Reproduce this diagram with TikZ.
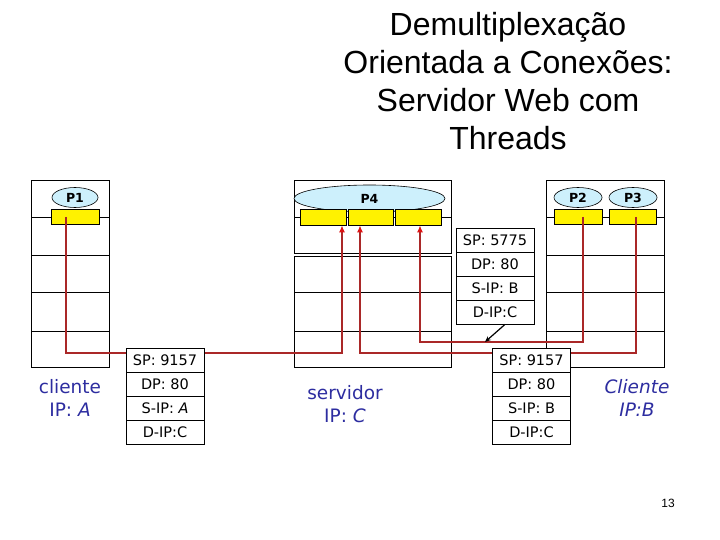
\documentclass[tikz,border=0pt]{standalone}
\usepackage{fontspec}
\setmainfont{Liberation Sans}
\newfontfamily\comic{DejaVu Sans}
\usetikzlibrary{shapes.geometric,arrows.meta}
\definecolor{linkred}{RGB}{170,40,40}
\definecolor{tipred}{RGB}{220,20,20}
\definecolor{hostblue}{RGB}{45,45,160}
\definecolor{proccyan}{RGB}{205,240,252}
\tikzset{
  hostline/.style={draw=black, line width=0.7pt},
  proc/.style={ellipse, draw=black, line width=0.6pt, fill=proccyan, inner sep=0pt,
    minimum height=20pt, font=\comic\bfseries\fontsize{12.5}{14}\selectfont},
  sock/.style={rectangle, draw=black, line width=0.6pt, fill=yellow, inner sep=0pt,
    minimum height=15pt},
  redlink/.style={draw=linkred, line width=2.4pt},
  redarrow/.style={redlink, -{Latex[length=7pt,width=6pt,color=tipred]}},
  pkt/.style={rectangle, draw=black, line width=0.8pt, fill=white, inner sep=0pt,
    minimum width=78pt, minimum height=24pt, font=\comic\fontsize{14.5}{16}\selectfont},
  hostlabel/.style={align=center, text=hostblue, font=\comic\fontsize{18.5}{23}\selectfont}
}
\begin{document}
\begin{tikzpicture}[x=1pt,y=-1pt]
\useasboundingbox (0,0) rectangle (720,540);
% title
\node[align=center, font=\fontsize{32}{38}\selectfont] (title) at (508,81)
  {Demultiplexação\\Orientada a Conexões:\\Servidor Web com\\Threads};
% left host
\draw[hostline] (31,180) rectangle (109,367);
\foreach \yy in {217,255,292,331} \draw[hostline] (31,\yy) -- (109,\yy);
% server host
\draw[hostline] (294,180) rectangle (451,253);
\draw[hostline] (294,256) rectangle (451,367);
\foreach \yy in {217} \draw[hostline] (294,\yy) -- (451,\yy);
\foreach \yy in {292,331} \draw[hostline] (294,\yy) -- (451,\yy);
% right host
\draw[hostline] (546,180) rectangle (664,367);
\foreach \yy in {217,255,292,331} \draw[hostline] (546,\yy) -- (664,\yy);
% processes
\node[proc, minimum width=46pt] (P1) at (75,197.5) {P1};
\node[proc, minimum width=151pt, minimum height=27pt] (P4) at (369.5,198.5) {P4};
\node[proc, minimum width=48pt] (P2) at (578,197.5) {P2};
\node[proc, minimum width=48pt] (P3) at (633,197.5) {P3};
% sockets
\node[sock, minimum width=48pt] (sA) at (75,216.5) {};
\node[sock, minimum width=46pt, minimum height=16pt] (sS1) at (323,217) {};
\node[sock, minimum width=45pt, minimum height=16pt] (sS2) at (370.5,217) {};
\node[sock, minimum width=46pt, minimum height=16pt] (sS3) at (418,217) {};
\node[sock, minimum width=48pt] (sP2) at (578,216.5) {};
\node[sock, minimum width=47pt] (sP3) at (632.5,216.5) {};
% red connections
\coordinate (a0) at (66,217);
\coordinate (a1) at (66,353);
\coordinate (a2) at (342,353);
\draw[redarrow] (a0) -- (a1) -- (a2) -- (a2 |- sS1.south);
\coordinate (c0) at (636,217);
\coordinate (c1) at (636,353);
\coordinate (c2) at (360,353);
\draw[redarrow] (c0) -- (c1) -- (c2) -- (c2 |- sS2.south);
\coordinate (b0) at (583,217);
\coordinate (b1) at (583,342);
\coordinate (b2) at (420,342);
\draw[redarrow] (b0) -- (b1) -- (b2) -- (b2 |- sS3.south);
% packets
\node[pkt] (pA1) at (165,360) {SP: 9157};
\node[pkt] (pA2) at (165,384) {DP: 80};
\node[pkt] (pA3) at (165,408) {S-IP: \textit{A}};
\node[pkt] (pA4) at (165,432) {D-IP:C};
\node[pkt] (pB1) at (531.5,360) {SP: 9157};
\node[pkt] (pB2) at (531.5,384) {DP: 80};
\node[pkt] (pB3) at (531.5,408) {S-IP: B};
\node[pkt] (pB4) at (531.5,432) {D-IP:C};
\node[pkt] (pC1) at (495,240) {SP: 5775};
\node[pkt] (pC2) at (495,264) {DP: 80};
\node[pkt] (pC3) at (495,288) {S-IP: B};
\node[pkt] (pC4) at (495,312) {D-IP:C};
\coordinate (tip) at (485,342);
\draw[line width=1.2pt, -{Stealth[length=6pt,width=5pt]}] ([xshift=10pt]pC4.south) -- (tip);
% host labels
\node[hostlabel] (hA) at (70,398) {cliente\\IP: \textit{A}};
\node[hostlabel] (hS) at (345,404) {servidor\\IP: \textit{C}};
\node[hostlabel] (hB) at (637,398) {\textit{Cliente}\\\textit{IP:B}};
% page number
\node[font=\fontsize{12}{14}\selectfont] (pg) at (668,503) {13};
\end{tikzpicture}
\end{document}
